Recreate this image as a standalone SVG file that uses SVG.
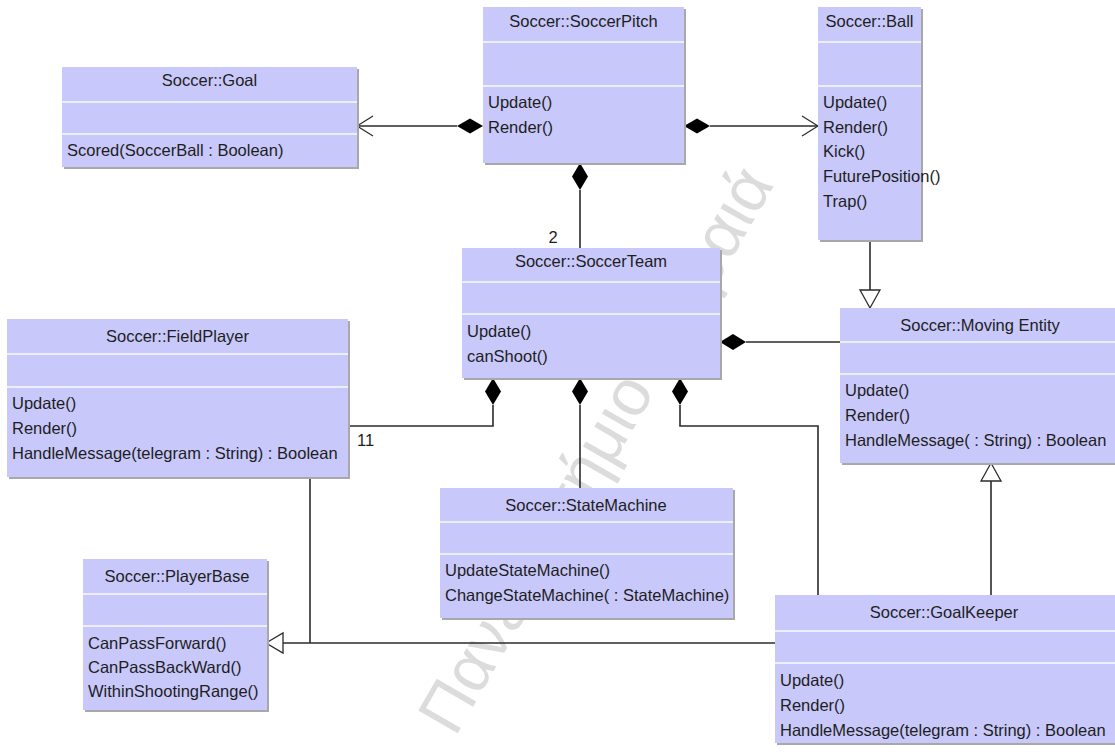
<svg xmlns="http://www.w3.org/2000/svg" width="1115" height="755" viewBox="0 0 1115 755">
<defs>
<style>
.box{fill:#c8c8fa}
.shadow{fill:#a8a8a8}
.sep{stroke:#eeeeff;stroke-width:2}
.t{font-family:"Liberation Sans",Arial,sans-serif;font-size:16.5px;fill:#1e1e1e}
.title{text-anchor:middle}
.ln{stroke:#2b2b2b;stroke-width:1.6;fill:none}
.arr{stroke:#2b2b2b;stroke-width:1.2;fill:none}
.dia{fill:#000}
.tri{fill:#fff;stroke:#2b2b2b;stroke-width:1.3}
.wm{font-family:"Liberation Sans",Arial,sans-serif;font-size:66px;fill:#dcdcdc}
</style>
</defs>
<rect width="1115" height="755" fill="#fff"/>
<text class="wm" transform="translate(455,738) rotate(-60)">Πανεπιστήμιο Πειραιά</text>

<g id="connectors">
  <!-- Pitch -> Goal -->
  <line class="ln" x1="457" y1="126" x2="357" y2="126"/>
  <polygon class="dia" points="483,126 470,118.5 457,126 470,133.5"/>
  <polyline class="arr" points="373,116 357,126 373,136"/>
  <!-- Pitch -> Ball -->
  <line class="ln" x1="710" y1="126" x2="818" y2="126"/>
  <polygon class="dia" points="684,126 697,118.5 710,126 697,133.5"/>
  <polyline class="arr" points="802,116 818,126 802,136"/>
  <!-- Pitch -> Team -->
  <line class="ln" x1="580" y1="190" x2="580" y2="248"/>
  <polygon class="dia" points="580,163 588,176.5 580,190 572,176.5"/>
  <text class="t" x="553" y="243" text-anchor="middle">2</text>
  <!-- Team -> MovingEntity -->
  <line class="ln" x1="746" y1="342" x2="840" y2="342"/>
  <polygon class="dia" points="720,342 733,334 746,342 733,350"/>
  <!-- Team -> FieldPlayer -->
  <polyline class="ln" points="493,405 493,426 348,426"/>
  <polygon class="dia" points="493,378 501,391.5 493,405 485,391.5"/>
  <text class="t" x="357" y="446">11</text>
  <!-- Team -> StateMachine -->
  <line class="ln" x1="580" y1="405" x2="580" y2="488"/>
  <polygon class="dia" points="580,378 588,391.5 580,405 572,391.5"/>
  <!-- Team -> GoalKeeper -->
  <polyline class="ln" points="680,405 680,426 818,426 818,595"/>
  <polygon class="dia" points="680,378 688,391.5 680,405 672,391.5"/>
  <!-- MovingEntity -> Ball (generalization) -->
  <line class="ln" x1="870" y1="240" x2="870" y2="290"/>
  <polygon class="tri" points="870,308 860,290 880,290"/>
  <!-- GoalKeeper -> MovingEntity -->
  <line class="ln" x1="991" y1="595" x2="991" y2="481"/>
  <polygon class="tri" points="991,463 981,481 1001,481"/>
  <!-- FieldPlayer / GoalKeeper -> PlayerBase -->
  <line class="ln" x1="310" y1="477" x2="310" y2="643"/>
  <line class="ln" x1="775" y1="643" x2="283" y2="643"/>
  <polygon class="tri" points="266,643 283,633 283,653"/>
</g>

<g id="goal">
  <rect class="shadow" x="64" y="69" width="295" height="100"/>
  <rect class="box" x="62" y="67" width="295" height="100"/>
  <line class="sep" x1="62" y1="102" x2="357" y2="102"/>
  <line class="sep" x1="62" y1="134" x2="357" y2="134"/>
  <text class="t title" x="209.5" y="86">Soccer::Goal</text>
  <text class="t" x="67" y="156">Scored(SoccerBall : Boolean)</text>
</g>

<g id="soccerpitch">
  <rect class="shadow" x="485" y="9" width="201" height="156"/>
  <rect class="box" x="483" y="7" width="201" height="156"/>
  <line class="sep" x1="483" y1="42" x2="684" y2="42"/>
  <line class="sep" x1="483" y1="86" x2="684" y2="86"/>
  <text class="t title" x="583.5" y="27">Soccer::SoccerPitch</text>
  <text class="t" x="488" y="108">Update()</text>
  <text class="t" x="488" y="133">Render()</text>
</g>

<g id="ball">
  <rect class="shadow" x="820" y="9" width="103" height="233"/>
  <rect class="box" x="818" y="7" width="103" height="233"/>
  <line class="sep" x1="818" y1="42" x2="921" y2="42"/>
  <line class="sep" x1="818" y1="86" x2="921" y2="86"/>
  <text class="t title" x="869.5" y="27">Soccer::Ball</text>
  <text class="t" x="823" y="108">Update()</text>
  <text class="t" x="823" y="133">Render()</text>
  <text class="t" x="823" y="157">Kick()</text>
  <text class="t" x="823" y="182">FuturePosition()</text>
  <text class="t" x="823" y="207">Trap()</text>
</g>

<g id="soccerteam">
  <rect class="shadow" x="464" y="250" width="258" height="130"/>
  <rect class="box" x="462" y="248" width="258" height="130"/>
  <line class="sep" x1="462" y1="282" x2="720" y2="282"/>
  <line class="sep" x1="462" y1="314" x2="720" y2="314"/>
  <text class="t title" x="591" y="267">Soccer::SoccerTeam</text>
  <text class="t" x="467" y="337">Update()</text>
  <text class="t" x="467" y="362">canShoot()</text>
</g>

<g id="fieldplayer">
  <rect class="shadow" x="9" y="321" width="341" height="158"/>
  <rect class="box" x="7" y="319" width="341" height="158"/>
  <line class="sep" x1="7" y1="354" x2="348" y2="354"/>
  <line class="sep" x1="7" y1="387" x2="348" y2="387"/>
  <text class="t title" x="177.5" y="342">Soccer::FieldPlayer</text>
  <text class="t" x="12" y="409">Update()</text>
  <text class="t" x="12" y="434">Render()</text>
  <text class="t" x="12" y="459">HandleMessage(telegram : String) : Boolean</text>
</g>

<g id="movingentity">
  <rect class="shadow" x="842" y="310" width="278" height="155"/>
  <rect class="box" x="840" y="308" width="278" height="155"/>
  <line class="sep" x1="840" y1="342" x2="1118" y2="342"/>
  <line class="sep" x1="840" y1="374" x2="1118" y2="374"/>
  <text class="t title" x="980" y="331">Soccer::Moving Entity</text>
  <text class="t" x="845" y="396">Update()</text>
  <text class="t" x="845" y="421">Render()</text>
  <text class="t" x="845" y="446">HandleMessage( : String) : Boolean</text>
</g>

<g id="statemachine">
  <rect class="shadow" x="442" y="490" width="293" height="130"/>
  <rect class="box" x="440" y="488" width="293" height="130"/>
  <line class="sep" x1="440" y1="522" x2="733" y2="522"/>
  <line class="sep" x1="440" y1="554" x2="733" y2="554"/>
  <text class="t title" x="586" y="511">Soccer::StateMachine</text>
  <text class="t" x="445" y="576">UpdateStateMachine()</text>
  <text class="t" x="445" y="601">ChangeStateMachine( : StateMachine)</text>
</g>

<g id="playerbase">
  <rect class="shadow" x="85" y="561" width="184" height="151"/>
  <rect class="box" x="83" y="559" width="184" height="151"/>
  <line class="sep" x1="83" y1="594" x2="267" y2="594"/>
  <line class="sep" x1="83" y1="626" x2="267" y2="626"/>
  <text class="t title" x="177" y="582">Soccer::PlayerBase</text>
  <text class="t" x="88" y="649">CanPassForward()</text>
  <text class="t" x="88" y="673">CanPassBackWard()</text>
  <text class="t" x="88" y="697">WithinShootingRange()</text>
</g>

<g id="goalkeeper">
  <rect class="shadow" x="777" y="597" width="340" height="148"/>
  <rect class="box" x="775" y="595" width="340" height="148"/>
  <line class="sep" x1="775" y1="631" x2="1115" y2="631"/>
  <line class="sep" x1="775" y1="663" x2="1115" y2="663"/>
  <text class="t title" x="944" y="618">Soccer::GoalKeeper</text>
  <text class="t" x="780" y="686">Update()</text>
  <text class="t" x="780" y="711">Render()</text>
  <text class="t" x="780" y="736">HandleMessage(telegram : String) : Boolean</text>
</g>
</svg>
